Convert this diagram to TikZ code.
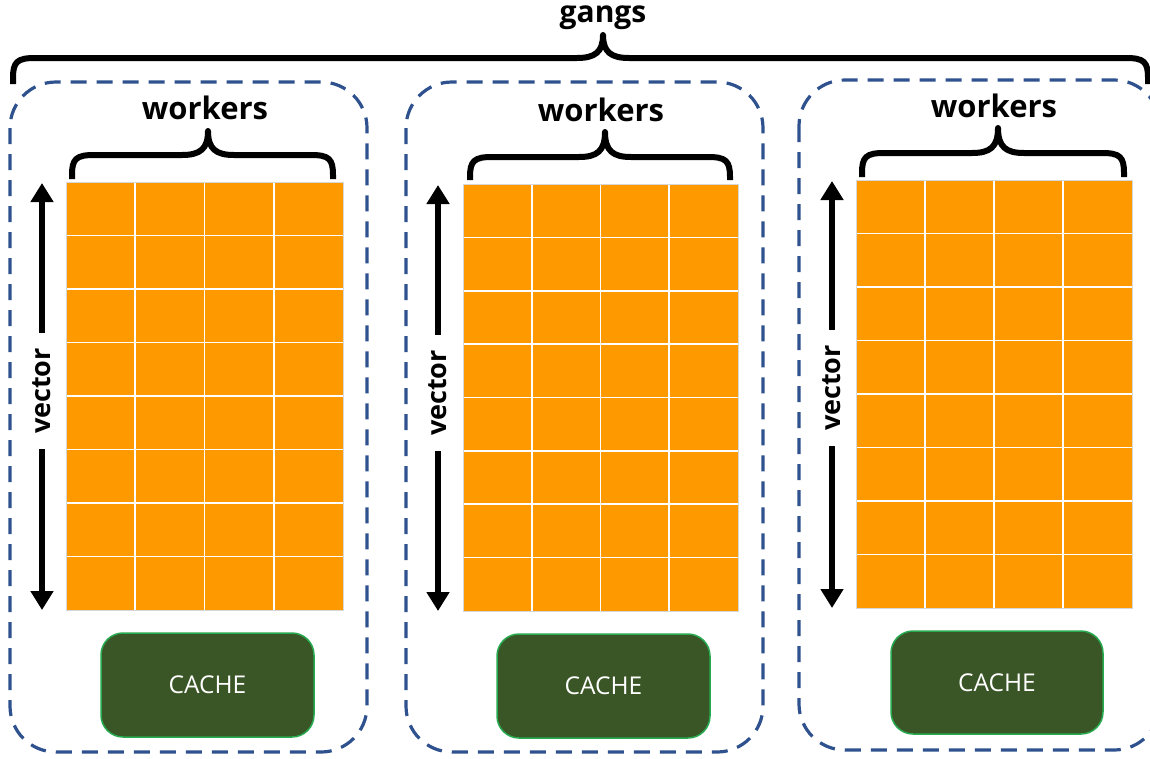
\documentclass[tikz,border=0pt]{standalone}
\usepackage{fontspec}
\setmainfont{Open Sans}
\usetikzlibrary{arrows.meta}

\definecolor{gridorange}{RGB}{255,153,0}
\definecolor{panelblue}{RGB}{47,82,143}
\definecolor{cachefill}{RGB}{58,86,38}
\definecolor{cacheedge}{RGB}{40,170,80}
\definecolor{gridedge}{RGB}{215,215,215}

\tikzset{
  panel/.style={draw=panelblue, line width=3.2pt, dash pattern=on 16pt off 10pt, rounded corners=46pt},
  bracestroke/.style={line width=6pt, line join=round},
  boldlabel/.style={font=\fontsize{31}{33}\selectfont\bfseries, inner sep=0pt},
  ganglabel/.style={boldlabel, font=\fontsize{30}{32}\selectfont\bfseries},
  veclabel/.style={font=\fontsize{27}{29}\selectfont\bfseries, rotate=90, inner xsep=15pt, inner ysep=0pt},
  cachebox/.style={draw=cacheedge, fill=cachefill, line width=1.5pt, rounded corners=22pt,
    text=white, font=\fontsize{24.5}{26}\selectfont, inner sep=0pt},
  cellline/.style={draw=white, line width=1.6pt},
  vecarrow/.style={line width=6pt, -{Triangle[width=22pt,length=19pt]}},
}

% curly brace opening downwards: ends at (x1,yb) and (x2,yb), bar at yh, tip at (xm,yt)
\newcommand{\downbrace}[6]{%
  \draw[bracestroke] (#1,#5) -- (#1,#4+20) .. controls (#1,#4+4) and (#1+4,#4) .. (#1+22,#4)
    -- (#3-26,#4) .. controls (#3-8,#4) and (#3,#4-6) .. (#3,#6)
    .. controls (#3,#4-6) and (#3+8,#4) .. (#3+26,#4)
    -- (#2-22,#4) .. controls (#2-4,#4) and (#2,#4+4) .. (#2,#4+20) -- (#2,#5);}

% grid of 4 x 8 cells between (x0,y0) and (x1,y1)
\newcommand{\cellgrid}[4]{%
  \fill[gridorange] (#1,#2) rectangle (#3,#4);
  \foreach \i in {1,2,3} \draw[cellline] ({#1+\i*(#3-#1)/4},#2) -- ({#1+\i*(#3-#1)/4},#4);
  \foreach \j in {1,...,7} \draw[cellline] (#1,{#2+\j*(#4-#2)/8}) -- (#3,{#2+\j*(#4-#2)/8});
  \draw[gridedge, line width=0.8pt] (#1,#2) rectangle (#3,#4);}

\begin{document}
\begin{tikzpicture}[x=1pt, y=-1pt]
  \useasboundingbox[fill=white] (0,0) rectangle (1150,758);

  % top-level brace
  \node[ganglabel] (gangs) at (603,18) {gangs};
  \downbrace{13}{1148}{603}{58}{84}{35}

  % dashed gang panels
  \draw[panel] (10,82) rectangle (367,752);
  \draw[panel] (406,82) rectangle (763,752);
  \draw[panel] (799,80) rectangle (1160,750);

  % panel 1
  \node[boldlabel] (workers1) at (205,108) {workers};
  \downbrace{72}{333}{208}{155}{179}{131}
  \cellgrid{66}{182}{343}{610}
  \node[veclabel] (vec1) at (42,391) {vector};
  \coordinate (v1top) at (42,183);
  \coordinate (v1bot) at (42,610);
  \draw[vecarrow] (vec1.east) -- (v1top);
  \draw[vecarrow] (vec1.west) -- (v1bot);
  \node[cachebox, minimum width=213pt, minimum height=104pt] (cache1) at (207.5,685) {CACHE};

  % panel 2
  \node[boldlabel] (workers2) at (601,110) {workers};
  \downbrace{470}{730}{605}{157}{180}{132}
  \cellgrid{463}{184}{738}{611}
  \node[veclabel] (vec2) at (438,393) {vector};
  \coordinate (v2top) at (438,185);
  \coordinate (v2bot) at (438,611);
  \draw[vecarrow] (vec2.east) -- (v2top);
  \draw[vecarrow] (vec2.west) -- (v2bot);
  \node[cachebox, minimum width=213pt, minimum height=104pt] (cache2) at (603.5,686) {CACHE};

  % panel 3
  \node[boldlabel] (workers3) at (994,106) {workers};
  \downbrace{862}{1124}{998}{153}{177}{128}
  \cellgrid{856}{180}{1132}{608}
  \node[veclabel] (vec3) at (832,388) {vector};
  \coordinate (v3top) at (832,181);
  \coordinate (v3bot) at (832,608);
  \draw[vecarrow] (vec3.east) -- (v3top);
  \draw[vecarrow] (vec3.west) -- (v3bot);
  \node[cachebox, minimum width=212pt, minimum height=103pt] (cache3) at (997,682.5) {CACHE};
\end{tikzpicture}
\end{document}
